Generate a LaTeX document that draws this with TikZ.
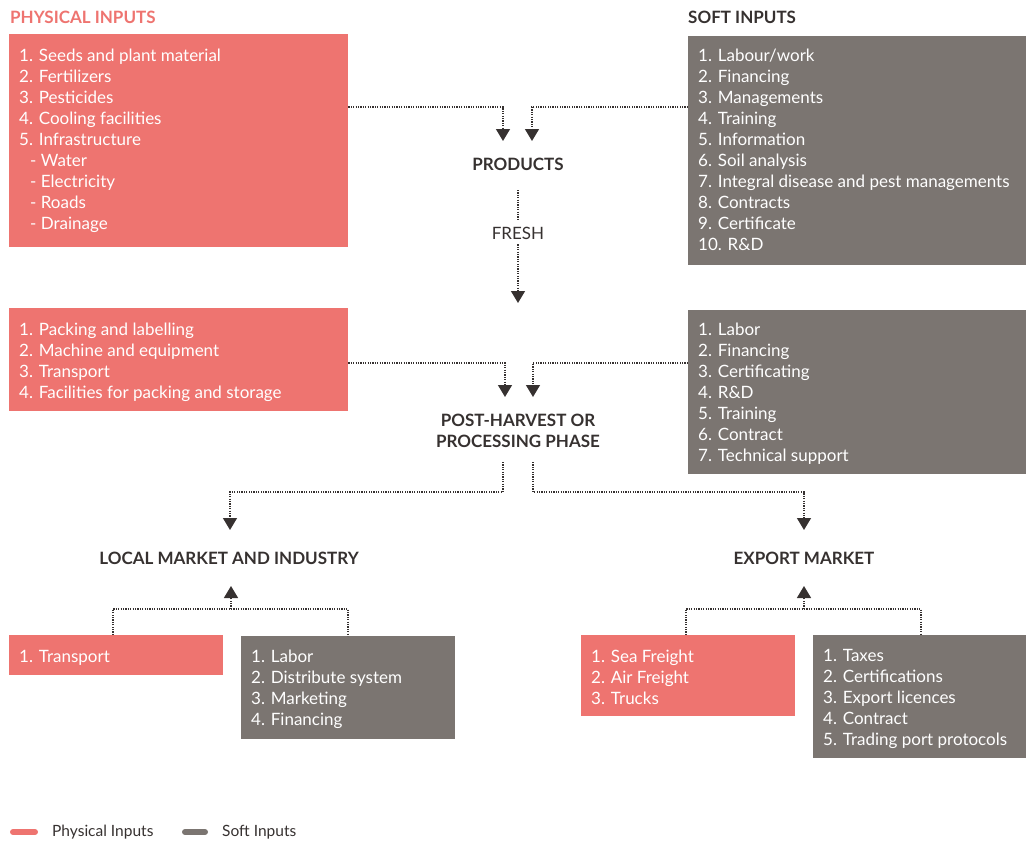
\documentclass[tikz,border=0pt]{standalone}
\usepackage{fontspec}
\setmainfont{Lato}
\usetikzlibrary{arrows.meta,calc}
\definecolor{pinkc}{HTML}{EE7470}
\definecolor{grayc}{HTML}{7B7571}
\definecolor{darkc}{HTML}{363130}
\begin{document}
\begin{tikzpicture}[x=1pt,y=-1pt,
  pbox/.style={fill=pinkc,draw=none,inner sep=0,anchor=north west},
  gbox/.style={fill=grayc,draw=none,inner sep=0,anchor=north west},
  txt/.style={text=white,font=\fontsize{17}{21}\selectfont,align=left,inner sep=0,anchor=north west},
  head/.style={text=darkc,font=\fontsize{17}{21}\selectfont\bfseries,align=center,inner sep=0},
  dotline/.style={draw=darkc,line width=1.3pt,dash pattern=on 1.2pt off 1.2pt},
  conn/.style={dotline,-{Triangle[width=14pt,length=12pt]}},
  legtxt/.style={anchor=west,inner sep=0,text=darkc,font=\fontsize{15.5}{18}\selectfont},
]
\useasboundingbox (0,0) rectangle (1028,843);

% titles
\node[anchor=west,inner sep=0,text=pinkc,font=\fontsize{17}{21}\selectfont\bfseries] (tphys) at (10,17) {PHYSICAL INPUTS};
\node[anchor=west,inner sep=0,text=darkc,font=\fontsize{17}{21}\selectfont\bfseries] (tsoft) at (688,17) {SOFT INPUTS};

% top boxes
\node[pbox,minimum width=339pt,minimum height=213pt] (p1) at (9,34) {};
\node[txt] (p1t) at ([xshift=10pt,yshift=-14.5pt]p1.north west) {1. Seeds and plant material\\2. Fertilizers\\3. Pesticides\\4. Cooling facilities\\5. Infrastructure\\\hspace*{11pt}- Water\\\hspace*{11pt}- Electricity\\\hspace*{11pt}- Roads\\\hspace*{11pt}- Drainage};
\node[gbox,minimum width=338pt,minimum height=229pt] (g1) at (688,36) {};
\node[txt] (g1t) at ([xshift=10pt,yshift=-12.5pt]g1.north west) {1. Labour/work\\2. Financing\\3. Managements\\4. Training\\5. Information\\6. Soil analysis\\7. Integral disease and pest managements\\8. Contracts\\9. Certificate\\10. R\&D};

% products / fresh
\node[head] (prod) at (518,164) {PRODUCTS};
\node[inner sep=0,text=darkc,font=\fontsize{17}{21}\selectfont] (fresh) at (518,233) {FRESH};
\coordinate (tpl) at (503,141);
\coordinate (tpr) at (532,141);
\draw[conn] ($(p1.north east)+(0,73)$) -| (tpl);
\draw[conn] ($(g1.north west)+(0,71)$) -| (tpr);
\draw[dotline] (518,190) -- ([yshift=6pt]fresh.north);
\coordinate (tfr) at (518,303);
\draw[conn] ([yshift=-5pt]fresh.south) -- (tfr);

% middle boxes
\node[pbox,minimum width=339pt,minimum height=103pt] (p2) at (9,308) {};
\node[txt] (p2t) at ([xshift=10pt,yshift=-14.5pt]p2.north west) {1. Packing and labelling\\2. Machine and equipment\\3. Transport\\4. Facilities for packing and storage};
\node[gbox,minimum width=338pt,minimum height=164pt] (g2) at (688,310) {};
\node[txt] (g2t) at ([xshift=10pt,yshift=-12.5pt]g2.north west) {1. Labor\\2. Financing\\3. Certificating\\4. R\&D\\5. Training\\6. Contract\\7. Technical support};

\node[head] (post) at (518,430.5) {POST-HARVEST OR\\PROCESSING PHASE};
\coordinate (tpl2) at (505,397);
\coordinate (tpr2) at (533,397);
\draw[conn] ($(p2.north east)+(0,55)$) -| (tpl2);
\draw[conn] ($(g2.north west)+(0,53)$) -| (tpr2);

% markets
\node[head] (local) at (229,558) {LOCAL MARKET AND INDUSTRY};
\node[head] (export) at (804,558) {EXPORT MARKET};
\coordinate (tloc) at (230,530);
\coordinate (texp) at (804,530);
\draw[conn] (503,462) |- (230,492) -- (tloc);
\draw[conn] (533,462) |- (804,492) -- (texp);

% bottom boxes
\node[pbox,minimum width=214pt,minimum height=40pt] (p3) at (9,635) {};
\node[txt] (p3t) at ([xshift=10pt,yshift=-15pt]p3.north west) {1. Transport};
\node[gbox,minimum width=214pt,minimum height=103pt] (g3) at (241,636) {};
\node[txt] (g3t) at ([xshift=10pt,yshift=-14pt]g3.north west) {1. Labor\\2. Distribute system\\3. Marketing\\4. Financing};
\node[pbox,minimum width=214pt,minimum height=81pt] (p4) at (581,635) {};
\node[txt] (p4t) at ([xshift=10pt,yshift=-14.5pt]p4.north west) {1. Sea Freight\\2. Air Freight\\3. Trucks};
\node[gbox,minimum width=213pt,minimum height=123pt] (g4) at (813,635) {};
\node[txt] (g4t) at ([xshift=10pt,yshift=-14pt]g4.north west) {1. Taxes\\2. Certifications\\3. Export licences\\4. Contract\\5. Trading port protocols};

\coordinate (uloc) at (231,586);
\coordinate (uexp) at (804,586);
\draw[dotline] (p3.north -| 113,0) |- (348,609) -- (g3.north -| 348,0);
\draw[conn] (231,609) -- (uloc);
\draw[dotline] (p4.north -| 686,0) |- (921,609) -- (g4.north -| 921,0);
\draw[conn] (804,609) -- (uexp);

% legend
\draw[pinkc,line width=6pt,line cap=round] (13,832) -- (35,832);
\node[legtxt] (lp) at (52,832) {Physical Inputs};
\draw[grayc,line width=6pt,line cap=round] (185,832) -- (205,832);
\node[legtxt] (ls) at (222,832) {Soft Inputs};
\end{tikzpicture}
\end{document}
